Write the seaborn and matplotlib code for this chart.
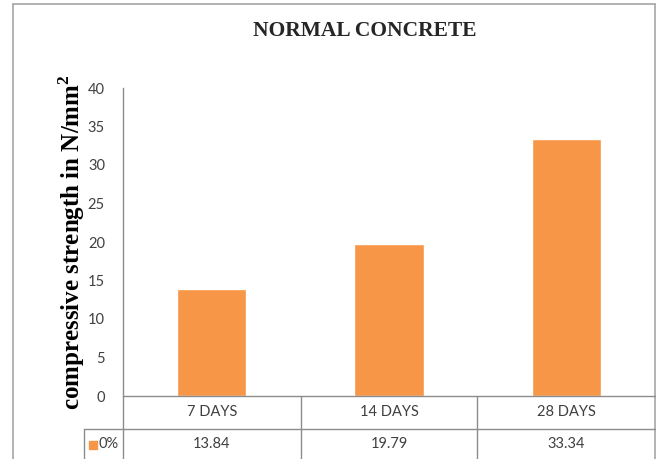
import matplotlib
matplotlib.use("Agg")
import matplotlib.pyplot as plt
from matplotlib.lines import Line2D
from matplotlib.patches import Rectangle
import seaborn as sns
import pandas as pd

# Compressive strength of normal concrete by curing age
ages = ["7 DAYS", "14 DAYS", "28 DAYS"]
strength = [13.84, 19.79, 33.34]
series_name = "0%"
yticks = [0, 5, 10, 15, 20, 25, 30, 35, 40]

W, H = 660, 459
BAR = "#F79646"
GRID = "#a6a6a6"
AXIS = "#8c8c8c"
TXT = "#404040"

sns.set_theme(style="white")
plt.rcParams["font.family"] = ["Lato", "DejaVu Sans"]
plt.rcParams["mathtext.fontset"] = "custom"
plt.rcParams["mathtext.bf"] = "Liberation Serif:bold"
plt.rcParams["mathtext.rm"] = "Liberation Serif"

fig = plt.figure(figsize=(W / 100, H / 100), dpi=100)
fig.patch.set_facecolor("white")


def fx(px):
    return px / W


def fy(py):
    return 1 - py / H


x_left, x_right, y_top, y_zero = 123, 655, 88, 396
ax = fig.add_axes([fx(x_left), fy(y_zero), fx(x_right) - fx(x_left), fy(y_top) - fy(y_zero)])

df = pd.DataFrame({"age": ages, "strength": strength})
sns.barplot(data=df, x="age", y="strength", color=BAR, saturation=1, width=0.39, ax=ax)

ax.set_ylim(0, 40)
ax.set_xlim(-0.5, len(ages) - 0.5)
ax.set_yticks(yticks)
ax.set_yticklabels([str(t) for t in yticks], fontsize=10.5, color=TXT)
ax.tick_params(axis="y", length=0, pad=13)
ax.set_xticks([])
ax.set_xlabel("")
ax.set_ylabel(r"compressive strength in N/mm$^{\mathbf{2}}$",
              family=["Liberation Serif", "DejaVu Serif"],
              fontweight="bold", fontsize=18, color="black")
ax.yaxis.set_label_coords(-0.068, 0.5)
for s in ["top", "right", "bottom"]:
    ax.spines[s].set_visible(False)
ax.spines["left"].set_color(AXIS)
ax.spines["left"].set_linewidth(1)
ax.set_facecolor("white")

# Title
fig.text(fx(365), fy(31), "NORMAL CONCRETE", ha="center", va="center",
         family=["Liberation Serif", "DejaVu Serif"], fontweight="bold", fontsize=15.5)


def hline(y, x0, x1, color=AXIS, lw=1):
    fig.add_artist(Line2D([fx(x0), fx(x1)], [fy(y), fy(y)], color=color, lw=lw))


def vline(x, y0, y1, color=AXIS, lw=1):
    fig.add_artist(Line2D([fx(x), fx(x)], [fy(y0), fy(y1)], color=color, lw=lw))


# Outer chart frame
hline(4, 13, 655, color=GRID, lw=1.2)
vline(13, 4, 459, color=GRID, lw=1.2)
vline(655, 4, 459, color=GRID, lw=1.2)

# Data table below the plot
row1_top, row2_top = 396, 429
col_edges = [123, 301, 477, 655]
hline(row1_top, 123, 655)
hline(row2_top, 84, 655)
vline(123, row1_top, 459)
vline(84, row2_top, 459)
for xe in col_edges[1:-1]:
    vline(xe, row1_top, 459)

for i, lab in enumerate(ages):
    cx = (col_edges[i] + col_edges[i + 1]) / 2
    fig.text(fx(cx), fy(412), lab, ha="center", va="center", fontsize=10.5, color=TXT)
    fig.text(fx(cx), fy(444), f"{strength[i]:.2f}", ha="center", va="center", fontsize=10.5, color=TXT)

# Legend key in the table's header cell
fig.add_artist(Rectangle((fx(89), fy(449)), fx(8), fy(441) - fy(449), color=BAR,
                         transform=fig.transFigure))
fig.text(fx(98), fy(444), series_name, ha="left", va="center", fontsize=10.5, color=TXT)

fig.savefig("out.png", dpi=100, facecolor="white")
